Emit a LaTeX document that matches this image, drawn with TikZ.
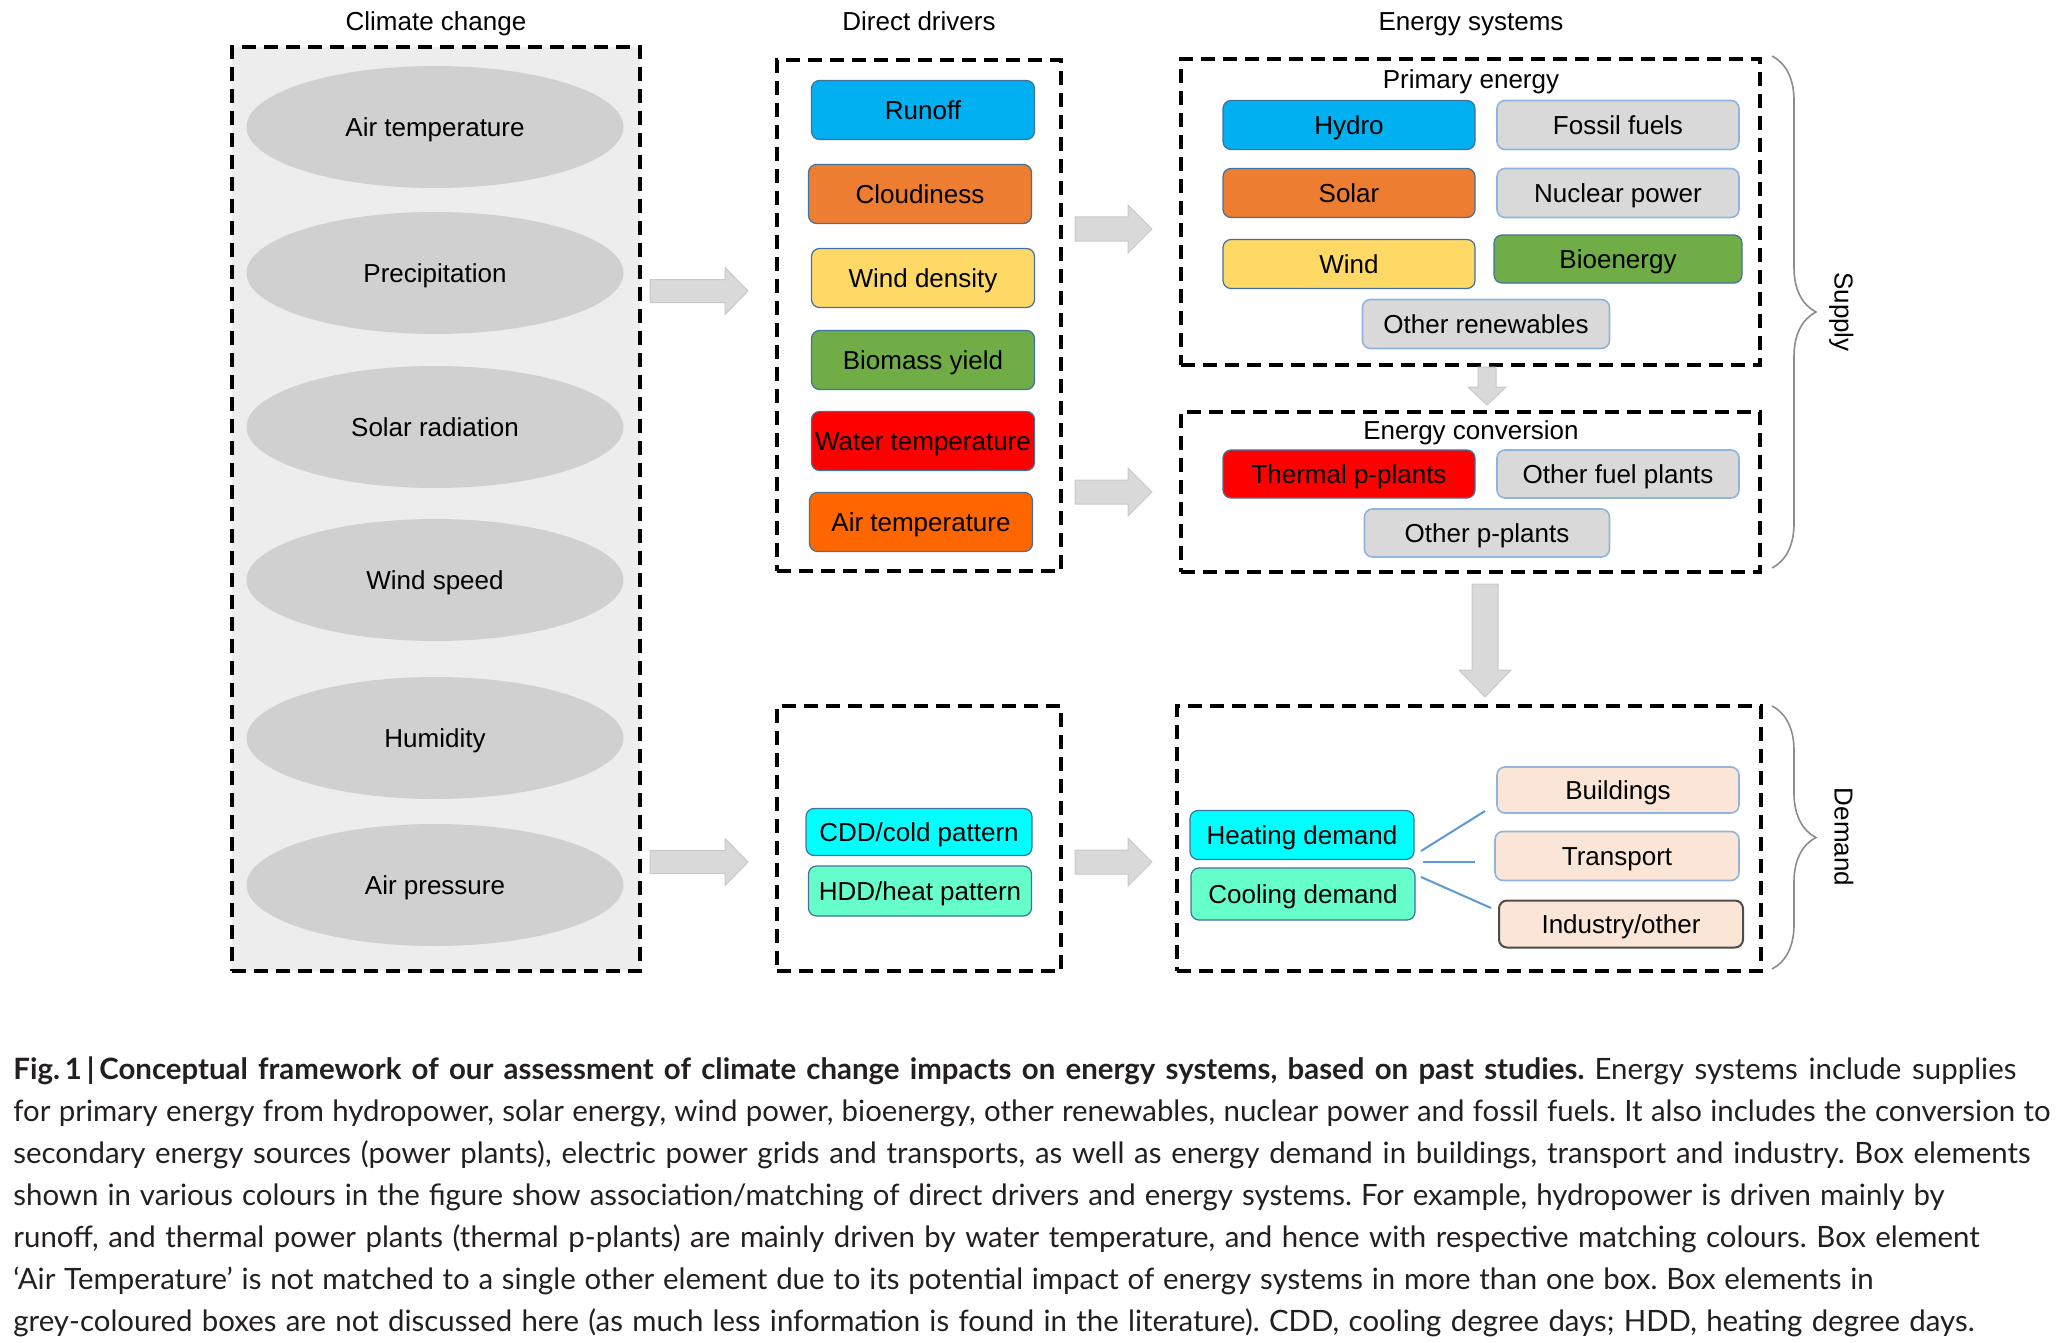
\documentclass[tikz,border=0pt]{standalone}
\usepackage{fontspec}
\setmainfont{Liberation Sans}
\newfontfamily\capfont{Lato}
\usetikzlibrary{shapes.geometric,decorations.pathreplacing,calc}
\definecolor{cRunoff}{HTML}{00B0F0}
\definecolor{cCloud}{HTML}{ED7D31}
\definecolor{cWind}{HTML}{FFD966}
\definecolor{cBio}{HTML}{70AD47}
\definecolor{cWater}{HTML}{FF0000}
\definecolor{cAir}{HTML}{FF6600}
\definecolor{cGrayBox}{HTML}{D9D9D9}
\definecolor{cHeat}{HTML}{00FFFF}
\definecolor{cCool}{HTML}{66FFCC}
\definecolor{cPeach}{HTML}{FBE5D6}
\definecolor{cEdge}{HTML}{41719C}
\definecolor{cEdgeLight}{HTML}{8FB4DE}
\definecolor{cEll}{HTML}{D0D0D0}
\definecolor{cPanel}{HTML}{EDEDED}
\definecolor{cArrow}{HTML}{D9D9D9}
\definecolor{cArrowEdge}{HTML}{C8C8C8}
\definecolor{cLine}{HTML}{5B9BD5}
\definecolor{cCap}{HTML}{231F20}
\definecolor{cBrace}{HTML}{8C8C8C}
\newcommand{\myHArrow}[5]{% tail, tip, half shaft, half head, head length
  \filldraw[arrowst] ($(#1)+(0,-#3)$) -- ($(#2)+(-#5,-#3)$) -- ($(#2)+(-#5,-#4)$) -- (#2)
    -- ($(#2)+(-#5,#4)$) -- ($(#2)+(-#5,#3)$) -- ($(#1)+(0,#3)$) -- cycle;}
\newcommand{\myVArrow}[5]{%
  \filldraw[arrowst] ($(#1)+(-#3,0)$) -- ($(#2)+(-#3,-#5)$) -- ($(#2)+(-#4,-#5)$) -- (#2)
    -- ($(#2)+(#4,-#5)$) -- ($(#2)+(#3,-#5)$) -- ($(#1)+(#3,0)$) -- cycle;}
\newcommand{\capline}[2]{\makebox[#1][s]{#2}}
\begin{document}
\begin{tikzpicture}[x=0.5pt,y=-0.5pt,
  dfont/.style={font=\fontsize{13}{15}\selectfont, text height=9.3pt, text depth=0pt},
  lbl/.style={dfont, inner sep=0pt},
  panel/.style={draw=black, line width=2pt, dash pattern=on 7pt off 4pt, rectangle, inner sep=0pt},
  ell/.style={ellipse, fill=cEll, minimum width=188.5pt, minimum height=61pt, inner sep=0pt, dfont},
  box/.style={rectangle, rounded corners=4pt, draw=cEdge, line width=0.6pt, inner sep=0pt, dfont},
  greybox/.style={box, fill=cGrayBox, draw=cEdgeLight, line width=0.8pt},
  peachbox/.style={box, fill=cPeach, draw=cEdgeLight, line width=0.8pt},
  drv/.style={box, minimum width=111.5pt, minimum height=29.5pt},
  arrowst/.style={fill=cArrow, draw=cArrowEdge, line width=0.5pt},
  bracest/.style={draw=cBrace, line width=0.8pt, decorate, decoration={brace, amplitude=22pt}},
  conn/.style={draw=cLine, line width=1pt},
  capst/.style={font=\capfont\fontsize{14.7}{21}\selectfont\frenchspacing, text=cCap, inner sep=0pt, anchor=base west}
]
\useasboundingbox (0,0) rectangle (2058,1343);

% titles
\node[lbl] (tcc) at (436,21) {Climate change};
\node[lbl] (tdd) at (919,21) {Direct drivers};
\node[lbl] (tes) at (1471,21) {Energy systems};

% climate change panel
\node[panel, fill=cPanel, minimum width=204pt, minimum height=462pt] (cc) at (436,509) {};
\node[ell] (e1) at (435,127) {Air temperature};
\node[ell] (e2) at (435,273) {Precipitation};
\node[ell] (e3) at (435,427) {Solar radiation};
\node[ell] (e4) at (435,580) {Wind speed};
\node[ell] (e5) at (435,738) {Humidity};
\node[ell] (e6) at (435,885) {Air pressure};

% direct drivers
\node[panel, minimum width=142pt, minimum height=255.5pt] (dd) at (919,315.5) {};
\node[drv, fill=cRunoff] (d1) at (923,110) {Runoff};
\node[drv, fill=cCloud] (d2) at (920,194) {Cloudiness};
\node[drv, fill=cWind] (d3) at (923,278) {Wind density};
\node[drv, fill=cBio] (d4) at (923,360) {Biomass yield};
\node[drv, fill=cWater] (d5) at (923,441) {Water temperature};
\node[drv, fill=cAir] (d6) at (921,522) {Air temperature};

\node[panel, minimum width=142pt, minimum height=132.5pt] (ddl) at (919,838.5) {};
\node[box, fill=cHeat, minimum width=113pt, minimum height=23.5pt] (cdd) at (919,832) {CDD/cold pattern};
\node[box, fill=cCool, minimum width=111.5pt, minimum height=25pt] (hdd) at (920,891) {HDD/heat pattern};

% primary energy
\node[panel, minimum width=289.5pt, minimum height=153pt] (pe) at (1470.5,212) {};
\node[lbl] (tpe) at (1471,79) {Primary energy};
\node[box, fill=cRunoff, minimum width=126pt, minimum height=24.5pt] (hydro) at (1349,125) {Hydro};
\node[greybox, minimum width=121pt, minimum height=24.5pt] (fossil) at (1618,125) {Fossil fuels};
\node[box, fill=cCloud, minimum width=126pt, minimum height=24.5pt] (solar) at (1349,193) {Solar};
\node[greybox, minimum width=121pt, minimum height=24.5pt] (nuclear) at (1618,193) {Nuclear power};
\node[box, fill=cWind, minimum width=126pt, minimum height=24.5pt] (wind) at (1349,264) {Wind};
\node[box, fill=cBio, minimum width=124pt, minimum height=24pt] (bio) at (1618,259) {Bioenergy};
\node[greybox, minimum width=123.5pt, minimum height=24.5pt] (otherren) at (1486,324) {Other renewables};

% energy conversion
\node[panel, minimum width=289.5pt, minimum height=80pt] (ec) at (1470.5,492) {};
\node[lbl] (tec) at (1471,430) {Energy conversion};
\node[box, fill=cWater, minimum width=126pt, minimum height=24pt] (thermal) at (1349,474) {Thermal p-plants};
\node[greybox, minimum width=121pt, minimum height=24pt] (otherfuel) at (1618,474) {Other fuel plants};
\node[greybox, minimum width=122.5pt, minimum height=24pt] (otherpp) at (1487,533) {Other p-plants};

% demand
\node[panel, minimum width=292pt, minimum height=132.5pt] (dem) at (1469,838.5) {};
\node[box, fill=cHeat, minimum width=112pt, minimum height=24.5pt] (heat) at (1302,835) {Heating demand};
\node[box, fill=cCool, minimum width=112pt, minimum height=26pt] (cool) at (1303,894) {Cooling demand};
\node[peachbox, minimum width=121pt, minimum height=23pt] (build) at (1618,790) {Buildings};
\node[peachbox, minimum width=122pt, minimum height=24.5pt] (trans) at (1617,856) {Transport};
\node[box, fill=cPeach, draw=black!70, line width=1pt, minimum width=122pt, minimum height=23.5pt] (indus) at (1621,924) {Industry/other};

% demand connector lines
\coordinate (l1a) at (1421,851); \coordinate (l1b) at (1485,811);
\coordinate (l2a) at (1423,862); \coordinate (l2b) at (1475,862);
\coordinate (l3a) at (1421,877); \coordinate (l3b) at (1491,908);
\draw[conn] (l1a) -- (l1b);
\draw[conn] (l2a) -- (l2b);
\draw[conn] (l3a) -- (l3b);

% block arrows
\coordinate (a1s) at (650,291); \coordinate (a1e) at (748,291);
\coordinate (a2s) at (650,862); \coordinate (a2e) at (748,862);
\coordinate (a3s) at (1075,229); \coordinate (a3e) at (1152,229);
\coordinate (a4s) at (1075,492); \coordinate (a4e) at (1152,492);
\coordinate (a5s) at (1075,862); \coordinate (a5e) at (1152,862);
\coordinate (v1s) at (1487,367); \coordinate (v1e) at (1487,405);
\coordinate (v2s) at (1485,584); \coordinate (v2e) at (1485,697);
\myHArrow{a1s}{a1e}{11.5}{23.5}{23}
\myHArrow{a2s}{a2e}{11.5}{23.5}{23}
\myHArrow{a3s}{a3e}{12}{24}{24}
\myHArrow{a4s}{a4e}{12}{24}{24}
\myHArrow{a5s}{a5e}{12}{24}{24}
\myVArrow{v1s}{v1e}{9}{19}{18}
\myVArrow{v2s}{v2e}{13}{26}{27}

% braces
\coordinate (b1t) at (1772,56); \coordinate (b1b) at (1772,568);
\coordinate (b2t) at (1772,706); \coordinate (b2b) at (1772,969);
\draw[bracest] (b1t) -- (b1b);
\draw[bracest] (b2t) -- (b2b);
\node[lbl, rotate=-90] (sup) at (1844,312) {Supply};
\node[lbl, rotate=-90] (dmd) at (1844,837) {Demand};

% caption
\node[capst] (cap1) at (13,1079) {\capline{1001.5pt}{\textbf{Fig.\,1\,|\,Conceptual framework of our assessment of climate change impacts on energy systems, based on past studies.} Energy systems include supplies}};
\node[capst] (cap2) at (13,1121) {\capline{1018.5pt}{for primary energy from hydropower, solar energy, wind power, bioenergy, other renewables, nuclear power and fossil fuels. It also includes the conversion to}};
\node[capst] (cap3) at (13,1163) {\capline{1008.5pt}{secondary energy sources (power plants), electric power grids and transports, as well as energy demand in buildings, transport and industry. Box elements}};
\node[capst] (cap4) at (13,1205) {\capline{965.5pt}{shown in various colours in the figure show association/matching of direct drivers and energy systems. For example, hydropower is driven mainly by}};
\node[capst] (cap5) at (13,1247) {\capline{983pt}{runoff, and thermal power plants (thermal p-plants) are mainly driven by water temperature, and hence with respective matching colours. Box element}};
\node[capst] (cap6) at (13,1289) {\capline{930pt}{‘Air Temperature’ is not matched to a single other element due to its potential impact of energy systems in more than one box. Box elements in}};
\node[capst] (cap7) at (13,1331) {\capline{980.5pt}{grey-coloured boxes are not discussed here (as much less information is found in the literature). CDD, cooling degree days; HDD, heating degree days.}};
\end{tikzpicture}
\end{document}
